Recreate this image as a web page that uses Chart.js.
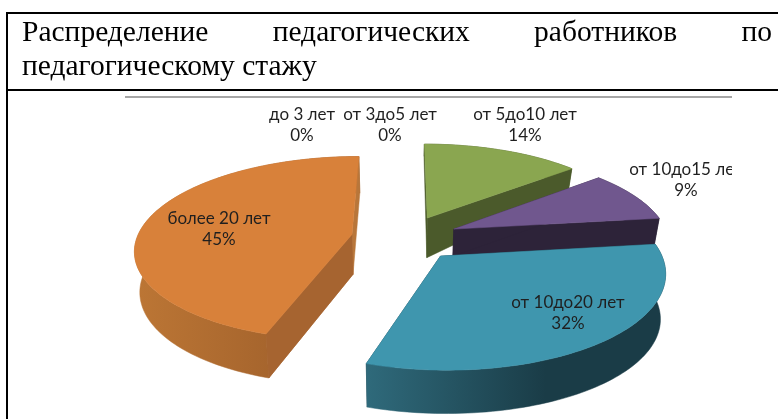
<!DOCTYPE html>
<html lang="ru">
<head>
<meta charset="utf-8">
<title>Распределение педагогических работников</title>
<script src="https://cdn.jsdelivr.net/npm/chart.js@4"></script>
<style>
  html, body { margin: 0; background: #fff; overflow: hidden; width: 778px; height: 419px; }
  .cell-line { position: absolute; background: #000; }
  .rule { position: absolute; left: 125px; top: 96px; width: 607px; height: 2px; background: #a6a6a6; }
  .heading {
    position: absolute; left: 22px; top: 14px; width: 750px;
    font: 29.5px/34px "Liberation Serif", serif; color: #000; text-align: justify;
    filter: blur(0.4px);
  }
  canvas { position: absolute; left: 0; top: 0; filter: blur(0.4px); }
</style>
</head>
<body>
<div class="cell-line" style="left:6px;top:12px;width:772px;height:2px"></div>
<div class="cell-line" style="left:6px;top:89px;width:772px;height:2px"></div>
<div class="cell-line" style="left:6px;top:12px;width:2px;height:407px"></div>
<div class="heading">Распределение педагогических работников по педагогическому стажу</div>
<div class="rule"></div>
<canvas id="chart" width="778" height="419"></canvas>
<script>
const categories = ['до 3 лет', 'от 3до5 лет', 'от 5до10 лет', 'от 10до15 лет', 'от 10до20 лет', 'более 20 лет'];
const shares = [0, 0, 14, 9, 32, 45];

const topColors = ['#4f81bd', '#c0504d', '#8aa650', '#70578e', '#3f96ae', '#d8813a'];
const wallColors = ['#2f4d71', '#73302e', '#4b5a2b', '#2d2339', '#1a3c47', '#a66430'];
// rim gradient, left to right
const rimColors = [null, null, ['#4b5a2b', '#4b5a2b'], ['#2d2339', '#2d2339'], ['#2f6a7b', '#1a3c47'], ['#bc7635', '#985a28']];
// wall height at the pie's centre line, and how much it grows towards the viewer
const wallHeights = [0, 0, 47, 27, 46, 40];
const wallSlopes = [0, 0, 0.39, 0, 0, 0.062];
const paintOrder = [2, 3, 5, 4];

// where the two-line labels sit on the page
const labelCentres = [[302, 115], [390, 115], [525, 115], [686, 170], [568, 303], [219, 219]];

const TILT = 0.422;
const CAMERA = 1420;
const BASE_SHRINK = 0.98;

const pie3d = {
  id: 'pie3d',
  beforeDatasetsDraw(chart) {
    const { ctx } = chart;
    const arcs = chart.getDatasetMeta(0).data;

    function project(el, px, py, height) {
      const s = CAMERA / (CAMERA - py);
      const x = px * s;
      const y = py * TILT * s;
      if (height === null) return [el.x + x, el.y + y];
      return [el.x + x * BASE_SHRINK, el.y + y * BASE_SHRINK + height(y)];
    }

    function outline(el, height) {
      const mid = (el.startAngle + el.endAngle) / 2;
      const ox = Math.cos(mid) * el.options.offset;
      const oy = Math.sin(mid) * el.options.offset;
      const rim = [];
      const steps = Math.ceil((el.endAngle - el.startAngle) * 40);
      for (let i = 0; i <= steps; i++) {
        const a = el.startAngle + (el.endAngle - el.startAngle) * i / steps;
        rim.push(project(el, ox + Math.cos(a) * el.outerRadius, oy + Math.sin(a) * el.outerRadius, height));
      }
      return { apex: project(el, ox, oy, height), rim };
    }

    function fillPoly(points, color) {
      ctx.beginPath();
      points.forEach((p, i) => (i ? ctx.lineTo(p[0], p[1]) : ctx.moveTo(p[0], p[1])));
      ctx.closePath();
      ctx.fillStyle = color;
      ctx.strokeStyle = color;
      ctx.lineWidth = 0.5;
      ctx.fill();
      ctx.stroke();
    }

    paintOrder.forEach((i) => {
      const el = arcs[i];
      const height = (y) => wallHeights[i] + wallSlopes[i] * y;
      const top = outline(el, null);
      const base = outline(el, height);
      const last = top.rim.length - 1;

      const xs = top.rim.map((p) => p[0]);
      const grad = ctx.createLinearGradient(Math.min(...xs), 0, Math.max(...xs), 0);
      grad.addColorStop(0, rimColors[i][0]);
      grad.addColorStop(i === 4 ? 0.6 : 1, rimColors[i][1]);
      if (i === 4) grad.addColorStop(1, rimColors[i][1]);

      // the orange slice shows its far wall on top of the rim, the others hide it behind
      if (i !== 5) fillPoly([top.apex, top.rim[last], base.rim[last], base.apex], wallColors[i]);
      fillPoly([top.apex, top.rim[0], base.rim[0], base.apex], wallColors[i]);
      fillPoly(top.rim.concat(base.rim.slice().reverse()), grad);
      if (i === 5) fillPoly([top.apex, top.rim[last], base.rim[last], base.apex], '#b8763a');
      if (i === 5) fillPoly([top.apex, top.rim[0], base.rim[0], base.apex], wallColors[i]);

      fillPoly([top.apex].concat(top.rim), topColors[i]);
    });
    return false;
  },
  afterDraw(chart) {
    const { ctx } = chart;
    ctx.save();
    ctx.beginPath();
    ctx.rect(125, 97, 607, 322);
    ctx.clip();
    ctx.font = '17px Lato, sans-serif';
    ctx.textAlign = 'center';
    ctx.textBaseline = 'middle';
    ctx.fillStyle = '#1f1f1f';
    categories.forEach((name, i) => {
      const [x, y] = labelCentres[i];
      ctx.fillText(name, x, y);
      ctx.fillText(shares[i] + '%', x, y + 21);
    });
    ctx.restore();
  }
};

new Chart(document.getElementById('chart'), {
  type: 'pie',
  data: {
    labels: categories,
    datasets: [{
      data: shares,
      backgroundColor: topColors,
      borderWidth: 0,
      offset: 54,
      hoverOffset: 0
    }]
  },
  options: {
    responsive: false,
    animation: false,
    radius: 215,
    layout: { padding: { left: 32, top: 57 } },
    plugins: { legend: { display: false }, tooltip: { enabled: false } }
  },
  plugins: [pie3d]
});
</script>
</body>
</html>
